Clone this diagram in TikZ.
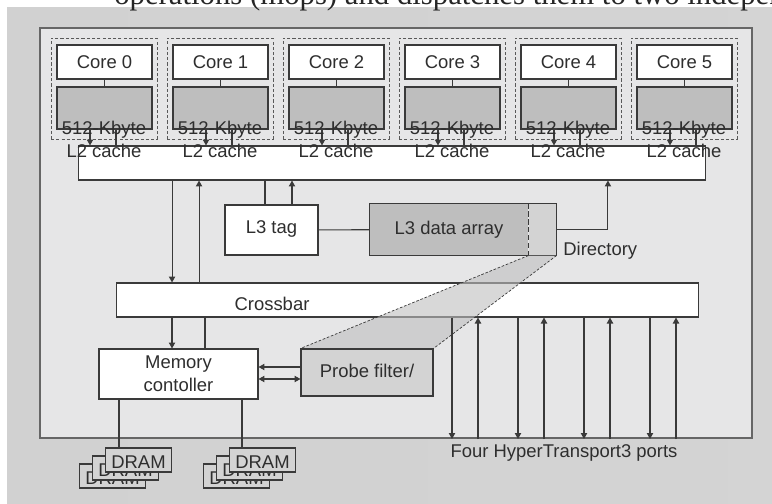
\documentclass[tikz,border=0pt]{standalone}
\usepackage{fontspec}
\setmainfont{Liberation Sans}
\newfontfamily\pageserif{Liberation Serif}
\usetikzlibrary{arrows.meta, positioning, calc}
\definecolor{linegray}{HTML}{3A3A3A}
\definecolor{textgray}{HTML}{2E2E2E}
\definecolor{cachegray}{HTML}{BEBEBE}
\definecolor{dirgray}{HTML}{D3D3D3}
\definecolor{chipgray}{HTML}{E6E6E7}
\tikzset{
    box/.style={rectangle, draw=linegray, line width=0.6pt, fill=white, inner sep=0pt, align=center, text=textgray, font=\fontsize{10.5}{13}\selectfont},
    core/.style={box, minimum width=1.9cm, minimum height=0.68cm},
    cache/.style={box, fill=cachegray, minimum width=1.9cm, minimum height=0.84cm},
    group/.style={rectangle, draw=black!65, line width=0.5pt, dash pattern=on 1.8pt off 1.2pt, minimum width=2.12cm, minimum height=2.02cm, inner sep=0pt},
    dram/.style={box, fill=dirgray, minimum width=1.32cm, minimum height=0.48cm, text height=0.34cm, text depth=0pt},
    lbl/.style={inner sep=0pt, align=center, text=textgray, font=\fontsize{10.5}{13}\selectfont},
    link/.style={draw=linegray, line width=0.6pt},
    arr/.style={link, -{Triangle[length=3.4pt, width=3.6pt]}},
    darr/.style={link, {Triangle[length=3.4pt, width=3.6pt]}-{Triangle[length=3.4pt, width=3.6pt]}}
}
\begin{document}
\begin{tikzpicture}[x=0.02cm, y=-0.02cm]
    \clip (0,0) rectangle (772,504);
    % page background
    \shade[left color=black!18, middle color=black!5, right color=black!17] (7,7) rectangle (772,504);
    \node[anchor=base west, inner sep=0pt, text=black!85, font=\pageserif\fontsize{17.5}{20}\selectfont] (pagetext) at (114,4) {operations (mops) and dispatches them to two independent};

    % chip outline
    \node[rectangle, draw=black!60, line width=1.2pt, fill=chipgray, minimum width=14.24cm, minimum height=8.2cm, inner sep=0pt] (chip) at (396,233) {};

    % cores with their L2 caches
    \foreach \i in {0,...,5} {
        \node[group] (grp\i) at ({104+116*\i},88.5) {};
        \node[core] (core\i) at ({104.5+116*\i},62) {Core \i};
        \node[cache] (cache\i) at ({104.5+116*\i},108) {};
        \draw[link] (core\i) -- (cache\i);
    }
    \node[box, minimum width=12.56cm, minimum height=0.68cm] (bus) at (392,163) {};
    \foreach \i in {0,...,5} {
        \draw[arr] ([xshift=-0.29cm]cache\i.south) -- ([xshift=-0.29cm]cache\i.south |- bus.north);
        \draw[link] ([xshift=0.23cm]cache\i.south) -- ([xshift=0.23cm]cache\i.south |- bus.north);
        \node[lbl, anchor=north] (l2\i) at ({104+116*\i},121) {512-Kbyte\\L2 cache};
    }

    % L3
    \node[box, minimum width=1.86cm, minimum height=1.0cm, text depth=0.12cm] (l3tag) at (271.5,230) {L3 tag};
    \node[box, draw=none, fill=cachegray, minimum width=3.16cm, minimum height=1.02cm] (l3data) at (449,229.5) {L3 data array};
    \node[box, draw=none, fill=dirgray, minimum width=0.54cm, minimum height=1.02cm, right=0pt of l3data] (dir) {};
    \draw[link] (l3data.north west) rectangle (dir.south east);
    \draw[link, dash pattern=on 3pt off 1.5pt] (dir.north west) -- (dir.south west);
    \node[lbl, anchor=west] (dirlbl) at (563,251) {Directory};

    \draw[link] ([xshift=-0.13cm]l3tag.north) -- ([xshift=-0.13cm]l3tag.north |- bus.south);
    \draw[arr] ([xshift=0.41cm]l3tag.north) -- ([xshift=0.41cm]l3tag.north |- bus.south);
    \draw[link] (l3tag) -- (l3data);
    \draw[arr] (dir.east) -| ([xshift=4.32cm]bus.south);

    % crossbar
    \node[box, minimum width=11.66cm, minimum height=0.68cm] (xbar) at (407.5,300) {};
    \node[lbl] (xbarlbl) at (272,304) {Crossbar};
    \draw[arr] ([xshift=-4.4cm]bus.south) -- ([xshift=-4.4cm]bus.south |- xbar.north);
    \draw[arr] ([xshift=-3.86cm]bus.south |- xbar.north) -- ([xshift=-3.86cm]bus.south);

    % probe filter, zoomed out of the directory
    \node[box, fill=dirgray, minimum width=2.64cm, minimum height=0.94cm, text depth=0.08cm] (probe) at (367,372.5) {Probe filter/};
    \fill[black!25, opacity=0.6] (dir.south west) -- (dir.south east) -- (probe.north east) -- (probe.north west) -- cycle;
    \draw[link, line width=0.4pt, dash pattern=on 1.5pt off 1pt] (dir.south west) -- (probe.north west);
    \draw[link, line width=0.4pt, dash pattern=on 1.5pt off 1pt] (dir.south east) -- (probe.north east);
    \draw[link] (probe.north west) -- (probe.north east);

    % memory controller
    \node[box, minimum width=3.18cm, minimum height=1.0cm] (mem) at (178.5,374) {Memory\\contoller};
    \draw[arr] ([xshift=-0.13cm]mem.north |- xbar.south) -- ([xshift=-0.13cm]mem.north);
    \draw[link] ([xshift=0.53cm]mem.north) -- ([xshift=0.53cm]mem.north |- xbar.south);
    \draw[arr] ([yshift=0.11cm]probe.west) -- ([yshift=0.11cm]probe.west -| mem.east);
    \draw[darr] ([yshift=-0.13cm]probe.west) -- ([yshift=-0.13cm]probe.west -| mem.east);

    % DRAM stacks
    \foreach \s/\x in {0/138.5, 1/262.5} {
        \node[dram] (dramc\s) at ({\x-26},476) {DRAM};
        \node[dram] (dramb\s) at ({\x-13},468) {DRAM};
        \node[dram] (drama\s) at (\x,460) {DRAM};
    }
    \draw[link] ([xshift=-0.39cm]drama0.north |- mem.south) -- ([xshift=-0.39cm]drama0.north);
    \draw[link] ([xshift=-0.41cm]drama1.north |- mem.south) -- ([xshift=-0.41cm]drama1.north);

    % HyperTransport ports
    \foreach \k in {0,...,3} {
        \coordinate (dn\k) at ({452+66*\k},0);
        \coordinate (up\k) at ({478+66*\k},0);
        \draw[arr] (xbar.south -| dn\k) -- (chip.south -| dn\k);
        \draw[arr] (chip.south -| up\k) -- (xbar.south -| up\k);
    }
    \node[lbl] (htlbl) at (564,453) {Four HyperTransport3 ports};
\end{tikzpicture}
\end{document}
